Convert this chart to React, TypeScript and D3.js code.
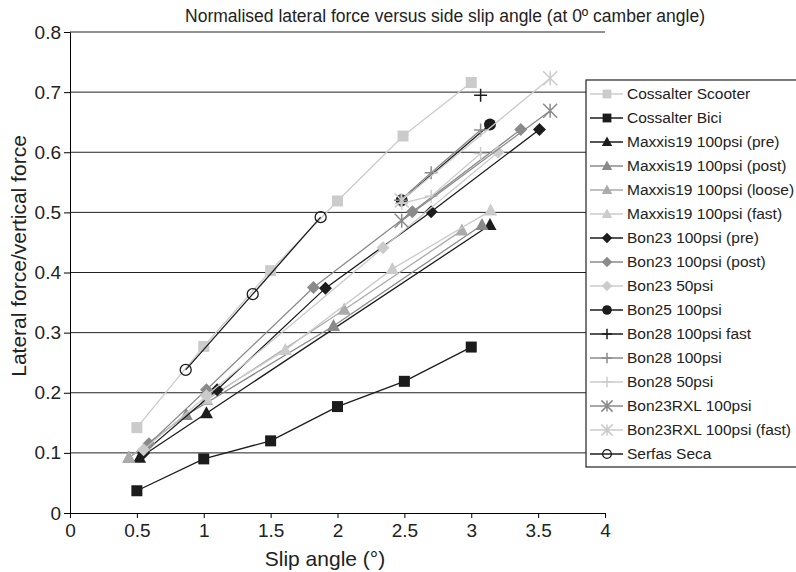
import React, { useEffect, useRef } from 'react';
import * as d3 from 'd3';

// tick values
const xTicks = [0, 0.5, 1, 1.5, 2, 2.5, 3, 3.5, 4];
const yTicks = [0, 0.1, 0.2, 0.3, 0.4, 0.5, 0.6, 0.7, 0.8];

// series values: [slip angle, normalised force]
const cossalterScooter = [[0.5, 0.142], [1.0, 0.277], [1.5, 0.403], [2.0, 0.519], [2.49, 0.627], [3.0, 0.716]];
const cossalterBici = [[0.5, 0.037], [1.0, 0.09], [1.5, 0.12], [2.0, 0.177], [2.5, 0.219], [3.0, 0.276]];
const maxxisPre = [[0.52, 0.092], [1.02, 0.166], [3.14, 0.479]];
const maxxisPost = [[0.44, 0.092], [0.87, 0.163], [1.97, 0.311], [3.08, 0.479]];
const maxxisLoose = [[0.44, 0.092], [1.02, 0.188], [2.05, 0.338], [2.93, 0.47]];
const maxxisFast = [[1.02, 0.19], [1.61, 0.271], [2.41, 0.406], [3.145, 0.503]];
const bon23Pre = [[0.55, 0.1], [1.1, 0.205], [1.91, 0.374], [2.7, 0.501], [3.51, 0.638]];
const bon23Post = [[0.59, 0.115], [1.02, 0.205], [1.82, 0.375], [2.56, 0.501], [3.37, 0.638]];
const bon23_50 = [[0.55, 0.105], [1.02, 0.195], [2.34, 0.441], [3.2, 0.6]];
const bon25 = [[2.48, 0.52], [3.14, 0.646]];
const bon28Fast = [[3.07, 0.695]];
const bon28 = [[2.47, 0.52], [2.7, 0.566], [3.07, 0.637]];
const bon28_50 = [[2.48, 0.515], [2.7, 0.527], [3.07, 0.598]];
const bon23RXL = [[2.48, 0.486], [3.59, 0.669]];
const bon23RXLFast = [[2.48, 0.52], [3.59, 0.723]];
const serfasSeca = [[0.865, 0.238], [1.366, 0.364], [1.874, 0.492]];

const seriesNames = [
  'Cossalter Scooter', 'Cossalter Bici',
  'Maxxis19 100psi (pre)', 'Maxxis19 100psi (post)', 'Maxxis19 100psi (loose)', 'Maxxis19 100psi (fast)',
  'Bon23 100psi (pre)', 'Bon23 100psi (post)', 'Bon23 50psi', 'Bon25 100psi',
  'Bon28 100psi fast', 'Bon28 100psi', 'Bon28 50psi',
  'Bon23RXL 100psi', 'Bon23RXL 100psi (fast)', 'Serfas Seca',
];
const seriesValues = [
  cossalterScooter, cossalterBici, maxxisPre, maxxisPost, maxxisLoose, maxxisFast,
  bon23Pre, bon23Post, bon23_50, bon25, bon28Fast, bon28, bon28_50, bon23RXL, bon23RXLFast, serfasSeca,
];

// look of each series (same order)
const BLACK = '#1c1c1c', MID = '#8a8a8a', LIGHT = '#ababab', PALE = '#cbcbcb';
const seriesStyle = [
  { color: PALE, marker: 'square' }, { color: BLACK, marker: 'square' },
  { color: BLACK, marker: 'triangle' }, { color: MID, marker: 'triangle' },
  { color: LIGHT, marker: 'triangle' }, { color: PALE, marker: 'triangle' },
  { color: BLACK, marker: 'diamond' }, { color: MID, marker: 'diamond' }, { color: PALE, marker: 'diamond' },
  { color: BLACK, marker: 'circle' },
  { color: BLACK, marker: 'plus' }, { color: MID, marker: 'plus' }, { color: PALE, marker: 'plus' },
  { color: MID, marker: 'star' }, { color: PALE, marker: 'star' },
  { color: BLACK, marker: 'open' },
];

const W = 796, H = 572;
const margin = { left: 70, right: 191, top: 32, bottom: 59 };

function drawMarker(g, type, color, s) {
  if (type === 'square') {
    g.append('rect').attr('x', -5.5 * s).attr('y', -5.5 * s).attr('width', 11 * s).attr('height', 11 * s).attr('fill', color);
  } else if (type === 'triangle') {
    g.append('path').attr('d', `M0,${-7 * s}L${6.5 * s},${5 * s}L${-6.5 * s},${5 * s}Z`).attr('fill', color);
  } else if (type === 'diamond') {
    g.append('path').attr('d', `M0,${-6.5 * s}L${6.5 * s},0L0,${6.5 * s}L${-6.5 * s},0Z`).attr('fill', color);
  } else if (type === 'circle') {
    g.append('circle').attr('r', 6 * s).attr('fill', color);
  } else if (type === 'open') {
    g.append('circle').attr('r', 5.5 * s).attr('fill', 'none').attr('stroke', color).attr('stroke-width', 1.3);
  } else if (type === 'plus') {
    g.append('path').attr('d', `M${-6.5 * s},0H${6.5 * s}M0,${-6.5 * s}V${6.5 * s}`).attr('stroke', color).attr('stroke-width', 1.5);
  } else if (type === 'star') {
    const r = 7 * s;
    g.append('path')
      .attr('d', `M${-r},${-r}L${r},${r}M${-r},${r}L${r},${-r}M0,${-r}V${r}`)
      .attr('stroke', color).attr('stroke-width', 1.5);
  }
}

export default function App() {
  const ref = useRef(null);

  useEffect(() => {
    const svg = d3.select(ref.current);
    svg.selectAll('*').remove();

    const x = d3.scaleLinear().domain([0, 4]).range([margin.left, W - margin.right]);
    const y = d3.scaleLinear().domain([0, 0.8]).range([H - margin.bottom, margin.top]);
    const font = 'Liberation Sans, Arial, sans-serif';

    svg.append('rect').attr('width', W).attr('height', H).attr('fill', '#fff');

    // gridlines
    svg.append('g')
      .selectAll('line')
      .data(yTicks.slice(1))
      .enter()
      .append('line')
      .attr('x1', x(0)).attr('x2', x(4))
      .attr('y1', (d) => y(d)).attr('y2', (d) => y(d))
      .attr('stroke', '#222').attr('stroke-width', 1);

    // x axis
    const xAxis = svg.append('g')
      .attr('transform', `translate(0,${y(0)})`)
      .call(d3.axisBottom(x).tickValues(xTicks).tickSize(5).tickPadding(6).tickFormat((d) => String(d)));
    xAxis.select('.domain').attr('stroke', '#000');
    xAxis.selectAll('.tick line').attr('stroke', '#000');
    xAxis.selectAll('text').attr('font-size', 19).attr('font-family', font).attr('fill', '#222');

    // y axis
    const yAxis = svg.append('g')
      .attr('transform', `translate(${x(0)},0)`)
      .call(d3.axisLeft(y).tickValues(yTicks).tickSize(6).tickPadding(3).tickFormat((d) => String(d)));
    yAxis.select('.domain').attr('stroke', '#000');
    yAxis.selectAll('.tick line').attr('stroke', '#000');
    yAxis.selectAll('text').attr('font-size', 19).attr('font-family', font).attr('fill', '#222');

    // series
    const line = d3.line().x((d) => x(d[0])).y((d) => y(d[1]));
    seriesValues.forEach((vals, i) => {
      const st = seriesStyle[i];
      if (vals.length > 1) {
        svg.append('path').attr('d', line(vals)).attr('fill', 'none').attr('stroke', st.color).attr('stroke-width', 1.3);
      }
      vals.forEach((p) => {
        const g = svg.append('g').attr('transform', `translate(${x(p[0])},${y(p[1])})`);
        drawMarker(g, st.marker, st.color, 1);
      });
    });

    // title
    svg.append('text')
      .attr('x', 445).attr('y', 22)
      .attr('text-anchor', 'middle')
      .attr('font-size', 17.5).attr('font-family', font).attr('fill', '#222')
      .text('Normalised lateral force versus side slip angle (at 0º camber angle)');

    // axis titles
    svg.append('text')
      .attr('x', 325).attr('y', 566)
      .attr('text-anchor', 'middle')
      .attr('font-size', 21).attr('font-family', font).attr('fill', '#222')
      .text('Slip angle (°)');
    svg.append('text')
      .attr('transform', 'translate(26,256) rotate(-90)')
      .attr('text-anchor', 'middle')
      .attr('font-size', 21).attr('font-family', font).attr('fill', '#222')
      .text('Lateral force/vertical force');

    // legend
    const lg = svg.append('g');
    lg.append('rect')
      .attr('x', 586).attr('y', 80).attr('width', 220).attr('height', 387)
      .attr('fill', '#fff').attr('stroke', '#222').attr('stroke-width', 1.2);
    seriesNames.forEach((name, i) => {
      const st = seriesStyle[i];
      const cy = 94 + i * 24;
      lg.append('line').attr('x1', 590).attr('x2', 623).attr('y1', cy).attr('y2', cy)
        .attr('stroke', st.color).attr('stroke-width', 1.3);
      drawMarker(lg.append('g').attr('transform', `translate(607,${cy})`), st.marker, st.color, 0.8);
      lg.append('text')
        .attr('x', 627).attr('y', cy).attr('dy', '0.35em')
        .attr('font-size', 15.5).attr('font-family', font).attr('fill', '#222')
        .text(name);
    });
  }, []);

  return (
    <svg ref={ref} width={W} height={H} style={{ position: 'absolute', left: 0, top: 0 }} />
  );
}
